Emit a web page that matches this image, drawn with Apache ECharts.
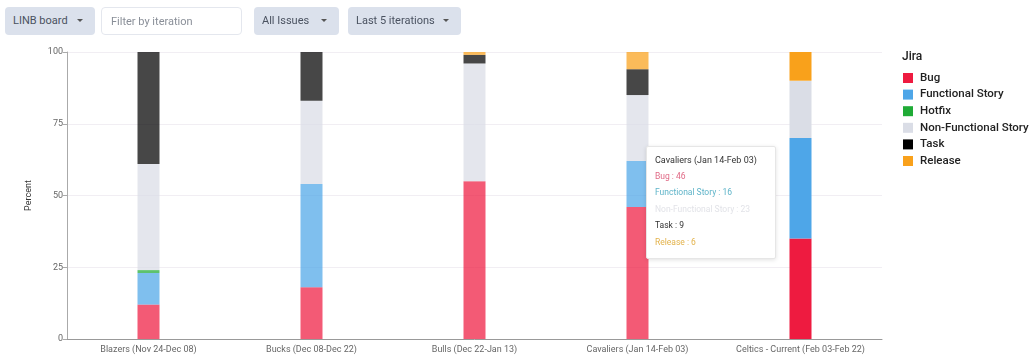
<!DOCTYPE html>
<html>
<head>
<meta charset="utf-8">
<script src="https://cdn.jsdelivr.net/npm/echarts@6/dist/echarts.min.js"></script>
<style>
  html, body { margin: 0; padding: 0; background: #fff; font-family: Roboto, "Noto Sans", sans-serif; }
  #chart { position: absolute; left: 0; top: 0; width: 1034px; height: 361px; }
  .ctl { position: absolute; top: 7px; height: 28px; box-sizing: border-box; border-radius: 4px;
         font-size: 11px; line-height: 28px; color: #4a5260; padding-left: 8px; z-index: 5; }
  .dd { background: #dbe1ec; }
  .dd:after { content: ""; position: absolute; right: 12px; top: 12px; border-left: 3px solid transparent;
              border-right: 3px solid transparent; border-top: 3px solid #555; }
  .inp { background: #fff; border: 1px solid #e4e7ee; color: #8a8f98; padding-left: 9px; }
</style>
</head>
<body>
<div id="chart"></div>
<div class="ctl dd" style="left:5px;width:90px;">LINB board</div>
<div class="ctl inp" style="left:101px;width:141px;">Filter by iteration</div>
<div class="ctl dd" style="left:254px;width:85px;">All Issues</div>
<div class="ctl dd" style="left:348px;width:113px;">Last 5 iterations</div>
<script>
const categories = ["Blazers (Nov 24-Dec 08)", "Bucks (Dec 08-Dec 22)", "Bulls (Dec 22-Jan 13)", "Cavaliers (Jan 14-Feb 03)", "Celtics - Current (Feb 03-Feb 22)"];
const seriesNames = ["Bug", "Functional Story", "Hotfix", "Non-Functional Story", "Task", "Release"];
const bug = [12, 18, 55, 46, 35];
const functionalStory = [11, 36, 0, 16, 35];
const hotfix = [1, 0, 0, 0, 0];
const nonFunctionalStory = [37, 29, 41, 23, 20];
const task = [39, 17, 3, 9, 0];
const release = [0, 0, 1, 6, 10];
const yTicks = [0, 25, 50, 75, 100];
const colors = ["#ee1b40", "#4ea6e8", "#1fab36", "#dadde6", "#000000", "#f9a11b"];
const tooltipColors = ["#e06a86", "#5fb4c9", "#e2e3e8", "#333333", "#e3b24a"];
const currentIndex = 4;
const tipIndex = 3;

const values = [bug, functionalStory, hotfix, nonFunctionalStory, task, release];

const chart = echarts.init(document.getElementById('chart'));
const series = seriesNames.map((name, si) => ({
  name: name,
  type: 'bar',
  stack: 'total',
  barWidth: 22,
  color: colors[si],
  emphasis: { disabled: true },
  data: values[si].map((v, i) => ({
    value: v === 0 ? '-' : v,
    itemStyle: { color: colors[si], opacity: i === currentIndex ? 1 : 0.72 }
  }))
}));

chart.setOption({
  animation: false,
  title: {
    text: 'Jira', left: 902, top: 51, padding: 0,
    textStyle: { fontFamily: 'Roboto', fontSize: 12, fontWeight: 500, color: '#222' }
  },
  legend: {
    orient: 'vertical', left: 903, top: 72, padding: 0,
    icon: 'rect', itemWidth: 10, itemHeight: 10, itemGap: 4.6,
    selectedMode: false,
    textStyle: { fontFamily: 'Roboto', fontSize: 11.5, fontWeight: 500, color: '#222', lineHeight: 10, padding: [0, 0, 0, 2] },
    data: seriesNames
  },
  grid: { left: 67, right: 152, top: 52, bottom: 22, outerBoundsMode: 'none', containLabel: false },
  tooltip: {
    trigger: 'axis',
    triggerOn: 'none',
    alwaysShowContent: true,
    transitionDuration: 0,
    confine: false,
    axisPointer: { type: 'none' },
    position: function () { return [646, 146]; },
    backgroundColor: '#fff',
    borderColor: '#e6e6e6',
    borderWidth: 1,
    padding: [6, 8, 8, 8],
    extraCssText: 'box-shadow: 0 1px 4px rgba(0,0,0,0.12); border-radius: 2px; width: 112px;',
    formatter: function () {
      const i = tipIndex;
      const rows = [
        ['Bug', bug[i], tooltipColors[0]],
        ['Functional Story', functionalStory[i], tooltipColors[1]],
        ['Non-Functional Story', nonFunctionalStory[i], tooltipColors[2]],
        ['Task', task[i], tooltipColors[3]],
        ['Release', release[i], tooltipColors[4]]
      ];
      let h = '<div style="font-family:Roboto;font-size:9px;line-height:15px;color:#333;">' +
        categories[i] + '</div>';
      rows.forEach(r => {
        h += '<div style="font-family:Roboto;font-size:8.5px;line-height:16.4px;color:' + r[2] + ';">' + r[0] + ' : ' + r[1] + '</div>';
      });
      return h;
    }
  },
  xAxis: {
    type: 'category',
    data: categories,
    name: 'Iteration',
    nameLocation: 'middle',
    nameGap: 23,
    nameTextStyle: { fontFamily: 'Roboto', fontSize: 10, color: '#333' },
    axisLine: { lineStyle: { color: '#999', width: 1 } },
    axisTick: { alignWithLabel: true, length: 4, lineStyle: { color: '#999' } },
    axisLabel: { interval: 0, fontFamily: 'Roboto', fontSize: 9, color: '#666', margin: 6 }
  },
  yAxis: {
    type: 'value',
    min: yTicks[0], max: yTicks[yTicks.length - 1], interval: 25,
    name: 'Percent',
    nameLocation: 'middle',
    nameGap: 34,
    nameTextStyle: { fontFamily: 'Roboto', fontSize: 9, color: '#333' },
    axisLine: { show: true, lineStyle: { color: '#aaa', width: 1 } },
    axisTick: { show: true, length: 4, lineStyle: { color: '#aaa' } },
    axisLabel: { fontFamily: 'Roboto', fontSize: 9, color: '#666', margin: 4 },
    splitLine: { lineStyle: { color: '#f1eef3', width: 1 } }
  },
  series: series
});
chart.dispatchAction({ type: 'showTip', seriesIndex: 0, dataIndex: tipIndex });
</script>
</body>
</html>
